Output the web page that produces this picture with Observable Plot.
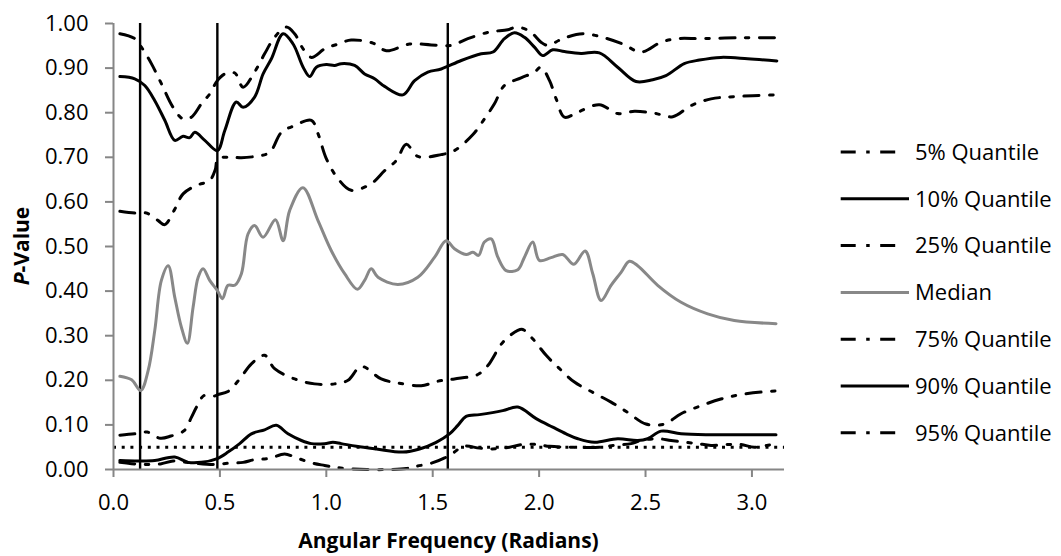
<!DOCTYPE html>
<html><head><meta charset="utf-8">
<script src="https://cdn.jsdelivr.net/npm/d3@7"></script>
<script src="https://cdn.jsdelivr.net/npm/@observablehq/plot@0.6"></script>
<style>
body{margin:0;background:#fff;font-family:"Open Sans",sans-serif;}
#chart{position:relative;width:1061px;height:556px;}
</style></head><body><div id="chart"></div>
<script>
// ---- data: [angular frequency (radians), p-value] ----
const q05 = [[0.03,0.977],[0.1,0.966],[0.131,0.947],[0.178,0.910],[0.225,0.865],[0.280,0.812],[0.327,0.786],[0.366,0.790],[0.413,0.820],[0.452,0.842],[0.488,0.872],[0.523,0.887],[0.570,0.889],[0.609,0.857],[0.663,0.891],[0.710,0.932],[0.757,0.969],[0.812,0.992],[0.851,0.977],[0.891,0.943],[0.930,0.924],[0.992,0.943],[1.055,0.954],[1.117,0.963],[1.219,0.956],[1.282,0.939],[1.391,0.954],[1.493,0.952],[1.587,0.951],[1.665,0.966],[1.767,0.981],[1.853,0.986],[1.892,0.992],[1.955,0.983],[2.009,0.958],[2.041,0.951],[2.111,0.966],[2.205,0.977],[2.299,0.969],[2.393,0.954],[2.479,0.936],[2.573,0.958],[2.651,0.966],[2.761,0.966],[2.948,0.968],[3.113,0.968]];
const q10 = [[0.03,0.881],[0.1,0.876],[0.147,0.861],[0.194,0.827],[0.241,0.783],[0.288,0.738],[0.327,0.747],[0.358,0.744],[0.382,0.756],[0.429,0.738],[0.488,0.715],[0.523,0.760],[0.577,0.824],[0.609,0.812],[0.663,0.835],[0.703,0.887],[0.742,0.921],[0.797,0.977],[0.844,0.954],[0.891,0.902],[0.922,0.881],[0.953,0.902],[1.0,0.908],[1.039,0.906],[1.07,0.91],[1.133,0.906],[1.180,0.887],[1.227,0.876],[1.274,0.859],[1.360,0.840],[1.415,0.872],[1.477,0.891],[1.540,0.898],[1.634,0.917],[1.728,0.932],[1.783,0.936],[1.837,0.966],[1.884,0.979],[1.931,0.969],[1.978,0.947],[2.017,0.928],[2.064,0.941],[2.119,0.937],[2.197,0.933],[2.283,0.934],[2.369,0.902],[2.455,0.870],[2.534,0.874],[2.596,0.883],[2.682,0.910],[2.753,0.918],[2.854,0.924],[2.980,0.921],[3.117,0.916]];
const q25 = [[0.03,0.579],[0.1,0.575],[0.155,0.575],[0.210,0.558],[0.241,0.549],[0.285,0.581],[0.327,0.618],[0.390,0.637],[0.452,0.648],[0.478,0.672],[0.491,0.697],[0.554,0.700],[0.601,0.699],[0.679,0.703],[0.734,0.711],[0.789,0.756],[0.851,0.771],[0.930,0.783],[0.961,0.753],[1.0,0.697],[1.055,0.652],[1.117,0.626],[1.211,0.641],[1.274,0.670],[1.329,0.693],[1.376,0.729],[1.430,0.702],[1.540,0.706],[1.602,0.715],[1.689,0.751],[1.743,0.786],[1.790,0.820],[1.837,0.861],[1.915,0.878],[1.978,0.891],[2.009,0.902],[2.049,0.872],[2.080,0.831],[2.119,0.790],[2.181,0.801],[2.283,0.818],[2.369,0.798],[2.448,0.803],[2.541,0.799],[2.628,0.791],[2.714,0.816],[2.808,0.831],[2.917,0.836],[3.113,0.840]];
const median = [[0.03,0.209],[0.085,0.201],[0.128,0.177],[0.163,0.222],[0.194,0.312],[0.225,0.424],[0.257,0.457],[0.288,0.386],[0.319,0.319],[0.347,0.283],[0.374,0.364],[0.398,0.431],[0.421,0.450],[0.452,0.424],[0.488,0.401],[0.512,0.383],[0.538,0.413],[0.570,0.413],[0.601,0.439],[0.632,0.528],[0.663,0.547],[0.703,0.521],[0.761,0.560],[0.797,0.513],[0.828,0.581],[0.890,0.632],[0.961,0.558],[1.023,0.491],[1.086,0.439],[1.146,0.404],[1.180,0.424],[1.211,0.450],[1.243,0.431],[1.336,0.415],[1.430,0.431],[1.509,0.476],[1.563,0.513],[1.602,0.495],[1.657,0.482],[1.689,0.487],[1.715,0.480],[1.743,0.510],[1.775,0.517],[1.806,0.476],[1.845,0.446],[1.900,0.448],[1.931,0.476],[1.970,0.510],[2.001,0.469],[2.056,0.475],[2.111,0.482],[2.163,0.460],[2.216,0.490],[2.252,0.439],[2.291,0.379],[2.338,0.413],[2.385,0.442],[2.424,0.467],[2.463,0.457],[2.557,0.413],[2.667,0.375],[2.792,0.349],[2.917,0.334],[3.113,0.327]];
const q75 = [[0.03,0.077],[0.1,0.080],[0.158,0.084],[0.22,0.070],[0.27,0.075],[0.332,0.087],[0.366,0.117],[0.39,0.14],[0.426,0.166],[0.478,0.165],[0.49,0.168],[0.538,0.175],[0.593,0.203],[0.648,0.237],[0.710,0.256],[0.757,0.226],[0.851,0.203],[0.945,0.192],[1.039,0.192],[1.102,0.200],[1.164,0.231],[1.258,0.203],[1.336,0.194],[1.446,0.188],[1.524,0.198],[1.602,0.203],[1.712,0.213],[1.759,0.233],[1.829,0.285],[1.900,0.312],[1.923,0.314],[1.970,0.293],[2.033,0.256],[2.096,0.226],[2.166,0.196],[2.252,0.173],[2.338,0.151],[2.416,0.128],[2.502,0.102],[2.589,0.102],[2.667,0.125],[2.761,0.143],[2.854,0.158],[2.948,0.168],[3.074,0.175],[3.113,0.176]];
const q90 = [[0.03,0.020],[0.116,0.019],[0.194,0.020],[0.288,0.028],[0.351,0.016],[0.413,0.016],[0.484,0.024],[0.538,0.039],[0.593,0.058],[0.648,0.080],[0.710,0.089],[0.765,0.099],[0.820,0.080],[0.883,0.065],[0.930,0.058],[0.992,0.058],[1.031,0.061],[1.070,0.058],[1.141,0.052],[1.235,0.046],[1.360,0.039],[1.438,0.046],[1.516,0.061],[1.579,0.080],[1.618,0.099],[1.657,0.119],[1.720,0.123],[1.829,0.132],[1.900,0.140],[1.986,0.114],[2.064,0.095],[2.127,0.080],[2.182,0.069],[2.260,0.061],[2.369,0.069],[2.463,0.065],[2.510,0.069],[2.573,0.086],[2.667,0.080],[2.808,0.078],[2.964,0.078],[3.113,0.078]];
const q95 = [[0.03,0.016],[0.085,0.013],[0.155,0.011],[0.225,0.013],[0.28,0.019],[0.343,0.016],[0.38,0.014],[0.47,0.011],[0.538,0.014],[0.609,0.016],[0.663,0.022],[0.734,0.025],[0.804,0.035],[0.851,0.028],[0.922,0.016],[0.992,0.009],[1.039,0.005],[1.102,0.002],[1.19,0.000],[1.297,0.000],[1.376,0.002],[1.42,0.007],[1.493,0.014],[1.556,0.026],[1.602,0.039],[1.642,0.052],[1.72,0.048],[1.78,0.046],[1.861,0.050],[1.92,0.056],[1.99,0.056],[2.049,0.052],[2.15,0.050],[2.29,0.050],[2.35,0.054],[2.432,0.058],[2.479,0.065],[2.557,0.069],[2.620,0.065],[2.69,0.061],[2.745,0.058],[2.808,0.054],[2.886,0.056],[2.948,0.056],[3.011,0.050],[3.07,0.054],[3.113,0.058]];

const seriesNames = ["5% Quantile","10% Quantile","25% Quantile","Median","75% Quantile","90% Quantile","95% Quantile"];
const seriesData = [q05, q10, q25, median, q75, q90, q95];
const verticalLines = [0.125, 0.488, 1.5708];
const thresholdLine = [0.05];
const xTicks = [0, 0.5, 1.0, 1.5, 2.0, 2.5, 3.0];
const yTicks = [0, 0.1, 0.2, 0.3, 0.4, 0.5, 0.6, 0.7, 0.8, 0.9, 1.0];

// ---- styles ----
const FONT = "'Open Sans', sans-serif";
const AXIS_GRAY = "#868686";
const DASHDOT = "15,10.5,3.5,10.5";
const styles = [
  {stroke: "#000", dash: DASHDOT},
  {stroke: "#000", dash: null},
  {stroke: "#000", dash: DASHDOT},
  {stroke: "#888888", dash: null},
  {stroke: "#000", dash: DASHDOT},
  {stroke: "#000", dash: null},
  {stroke: "#000", dash: DASHDOT}
];

const W = 1061, H = 556, ML = 113, MR = 277, MT = 23, MB = 87;

const marks = [
  Plot.ruleX(verticalLines, {stroke: "#000", strokeWidth: 2.4}),
  Plot.ruleY(thresholdLine, {stroke: "#000", strokeWidth: 3, strokeDasharray: "3,5.7"}),
  ...seriesData.map((d, i) => Plot.line(d, {
    x: p => p[0], y: p => p[1],
    stroke: styles[i].stroke, strokeWidth: 3,
    strokeDasharray: styles[i].dash || undefined,
    strokeLinejoin: "round",
    curve: "catmull-rom"
  })),
  Plot.ruleX([0], {stroke: AXIS_GRAY, strokeWidth: 2}),
  Plot.ruleY([0], {stroke: AXIS_GRAY, strokeWidth: 2}),
  Plot.axisX({ticks: xTicks, tickFormat: d => d.toFixed(1), tickSize: 8, tickPadding: 17, stroke: AXIS_GRAY, strokeWidth: 2, fill: "#000", fontSize: 22, label: null}),
  Plot.axisY({ticks: yTicks, tickFormat: d => d.toFixed(2), tickSize: 8, tickPadding: 17, stroke: AXIS_GRAY, strokeWidth: 2, fill: "#000", fontSize: 22, label: null})
];

const chart = Plot.plot({
  width: W, height: H,
  marginLeft: ML, marginRight: MR, marginTop: MT, marginBottom: MB,
  x: {domain: [0, 3.153]},
  y: {domain: [0, 1]},
  style: {fontFamily: FONT, fontSize: "22px", color: "#000", background: "#fff", overflow: "visible"},
  marks
});

const svg = d3.select(chart);

// axis titles
svg.append("text")
  .attr("x", (ML + (W - MR)) / 2).attr("y", 548)
  .attr("text-anchor", "middle")
  .attr("font-family", FONT).attr("font-size", 21).attr("font-weight", "bold").attr("fill", "#000")
  .text("Angular Frequency (Radians)");

const yt = svg.append("text")
  .attr("transform", `translate(29,${(MT + H - MB) / 2}) rotate(-90)`)
  .attr("text-anchor", "middle")
  .attr("font-family", FONT).attr("font-size", 21).attr("font-weight", "bold").attr("fill", "#000");
yt.append("tspan").attr("font-style", "italic").text("P");
yt.append("tspan").text("-Value");

// legend
const lg = svg.append("g").attr("font-family", FONT).attr("font-size", 22).attr("text-anchor", "start");
seriesNames.forEach((name, i) => {
  const cy = 152 + 46.8 * i;
  const st = styles[i];
  lg.append("line")
    .attr("x1", 840.7).attr("x2", st.dash ? 895.2 : 909)
    .attr("y1", cy).attr("y2", cy)
    .attr("stroke", st.stroke).attr("stroke-width", 3)
    .attr("stroke-dasharray", st.dash);
  lg.append("text").attr("x", 915).attr("y", cy).attr("dy", "0.35em")
    .attr("text-anchor", "start").attr("fill", "#000").text(name);
});

document.getElementById("chart").appendChild(chart);
</script></body></html>
